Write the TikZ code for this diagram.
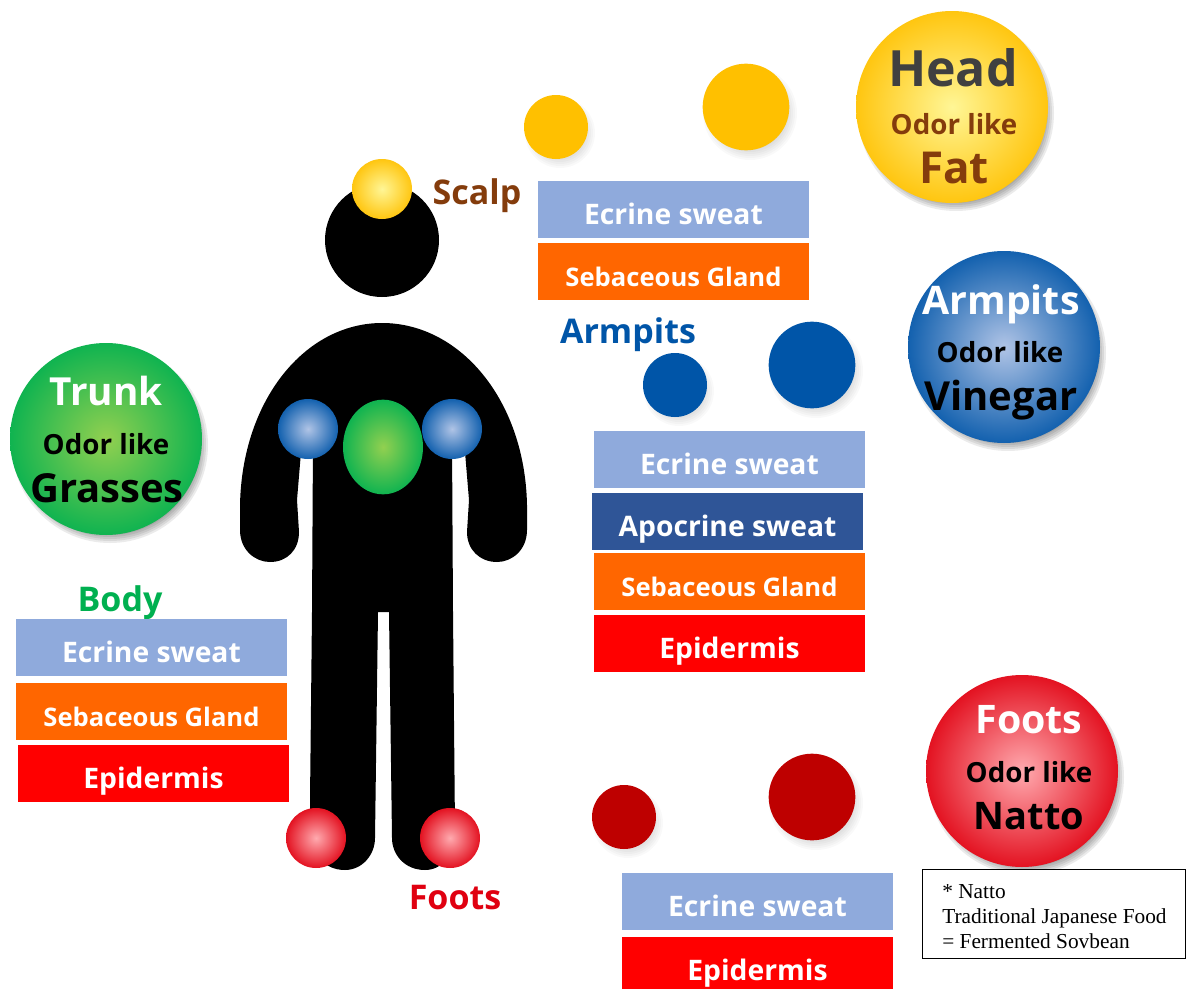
\documentclass[tikz,border=0pt]{standalone}
\usepackage{fontspec}
\usetikzlibrary{shapes.geometric}
\setmainfont{Open Sans}
\newfontfamily\notefont{Liberation Serif}
\definecolor{cBlueBar}{HTML}{8FAADC}
\definecolor{cOrange}{HTML}{FF6600}
\definecolor{cRedBar}{HTML}{FF0000}
\definecolor{cNavy}{HTML}{2F5597}
\definecolor{cBrown}{HTML}{843C0C}
\definecolor{cBlue}{HTML}{0055A8}
\definecolor{cGreen}{HTML}{00B050}
\definecolor{cRed}{HTML}{E00010}
\definecolor{cDark}{HTML}{404040}
\definecolor{cYel}{HTML}{FFC000}
\definecolor{cDRed}{HTML}{BE0000}
\definecolor{cYelC}{HTML}{FFF696}
\definecolor{cBlueC}{HTML}{B0C4E6}
\definecolor{cGreenC}{HTML}{92D050}
\definecolor{cRedC}{HTML}{FFAAAF}
\pgfdeclareradialshading{ballY}{\pgfpointorigin}{color(0bp)=(cYelC); color(28bp)=(cYel); color(100bp)=(cYel)}
\pgfdeclareradialshading{ballB}{\pgfpointorigin}{color(0bp)=(cBlueC); color(28bp)=(cBlue); color(100bp)=(cBlue)}
\pgfdeclareradialshading{ballG}{\pgfpointorigin}{color(0bp)=(cGreenC); color(28bp)=(cGreen); color(100bp)=(cGreen)}
\pgfdeclareradialshading{ballR}{\pgfpointorigin}{color(0bp)=(cRedC); color(28bp)=(cRed); color(100bp)=(cRed)}
\newcommand\softshadow[4]{%
  \foreach \i in {0,...,7}{\fill[black,opacity=#4] (#1+4,#2+6) circle[radius={#3+8-2*\i}];}}
\tikzset{
  bar/.style={minimum width=203.25pt,minimum height=42.75pt,inner sep=0pt,text=white,text height=21.8pt,text depth=0pt,font=\bfseries\fontsize{21.2}{24}\selectfont},
  barE/.style={bar,fill=cBlueBar},
  barS/.style={bar,fill=cOrange,font=\bfseries\fontsize{19.2}{22}\selectfont},
  barD/.style={bar,fill=cRedBar},
  barA/.style={bar,fill=cNavy},
  big/.style={circle,minimum size=144pt,inner sep=0pt},
  tiny/.style={circle,minimum size=45pt,inner sep=0pt},
  flatS/.style={circle,minimum size=48pt,inner sep=0pt},
  flatL/.style={circle,minimum size=65pt,inner sep=0pt},
  head/.style={font=\bfseries\fontsize{27}{30}\selectfont,inner sep=0pt},
  title/.style={font=\bfseries\fontsize{29.5}{32}\selectfont,inner sep=0pt},
  odor/.style={font=\bfseries\fontsize{20.8}{24}\selectfont,inner sep=0pt},
  side/.style={font=\bfseries\fontsize{25.5}{28}\selectfont,inner sep=0pt},
}
\begin{document}
\begin{tikzpicture}[x=0.75pt,y=-0.75pt]
\useasboundingbox (0,0) rectangle (1186,989);
\fill[white] (0,0) rectangle (1186,989);
% person
\fill[black] (382,240) circle[radius=57];
\fill[black] (382,323) .. controls (305,323) and (242,400) .. (240,505)
  -- (240,530) .. controls (240,550) and (255,562) .. (270,562)
  .. controls (287,562) and (299,550) .. (299,532)
  -- (297,500) -- (302,440) -- (313,440) -- (312,612) -- (310,800) -- (310,830)
  .. controls (310,855) and (325,870) .. (345,870)
  .. controls (362,870) and (375,855) .. (375,838)
  -- (378,612) -- (389,612) -- (392,838)
  .. controls (392,855) and (405,870) .. (425,870)
  .. controls (442,870) and (455,855) .. (455,830)
  -- (453,612) -- (452,440) -- (464,440) -- (469,500) -- (467,532)
  .. controls (467,550) and (480,562) .. (497,562)
  .. controls (512,562) and (527,550) .. (527,530)
  -- (527,505) .. controls (525,400) and (460,323) .. (382,323) -- cycle;
% gradient spots on the person
\node[tiny,shading=ballY] (spotScalp) at (382,189) {};
\node[tiny,shading=ballB] (spotArmL) at (308,429) {};
\node[tiny,shading=ballB] (spotArmR) at (452,429) {};
\node[ellipse,minimum width=60pt,minimum height=71pt,inner sep=0pt,shading=ballG] (spotTrunk) at (383,447) {};
\node[tiny,shading=ballR] (spotFootL) at (316,838) {};
\node[tiny,shading=ballR] (spotFootR) at (450,838) {};
% flat circles
\softshadow{556}{127}{27}{0.025}
\softshadow{746}{107}{39}{0.025}
\softshadow{675}{385}{27}{0.025}
\softshadow{812}{365}{39}{0.025}
\softshadow{624}{817}{27}{0.025}
\softshadow{812}{797}{39}{0.025}
\node[flatS,fill=cYel] (scalpS) at (556,127) {};
\node[flatL,fill=cYel] (scalpL) at (746,107) {};
\node[flatS,fill=cBlue] (armS) at (675,385) {};
\node[flatL,fill=cBlue] (armL) at (812,365) {};
\node[flatS,fill=cDRed] (footS) at (624,817) {};
\node[flatL,fill=cDRed] (footL) at (812,797) {};
% big balls
\softshadow{952}{107}{90}{0.08}
\softshadow{1004}{347}{90}{0.08}
\softshadow{106}{439}{90}{0.08}
\softshadow{1022}{771}{90}{0.08}
\node[big,shading=ballY] (ballHead) at (952,107) {};
\node[big,shading=ballB] (ballArm) at (1004,347) {};
\node[big,shading=ballG] (ballTrunk) at (106,439) {};
\node[big,shading=ballR] (ballFoot) at (1022,771) {};
% ball texts
\node[head,text=cDark,font=\bfseries\fontsize{37.5}{40}\selectfont] (tHead) at (953,68) {Head};
\node[odor,text=cBrown] (tHeadO) at (954,124) {Odor like};
\node[head,text=cBrown,font=\bfseries\fontsize{33}{36}\selectfont] (tFat) at (954,168) {Fat};
\node[title,text=white] (tArm) at (1001,304) {Armpits};
\node[odor,text=black] (tArmO) at (1000,352) {Odor like};
\node[title,text=black,font=\bfseries\fontsize{30}{32}\selectfont] (tVin) at (1001,400) {Vinegar};
\node[title,text=white,font=\bfseries\fontsize{29}{32}\selectfont] (tTrunk) at (106,391) {Trunk};
\node[odor,text=black] (tTrunkO) at (106,444) {Odor like};
\node[title,text=black,font=\bfseries\fontsize{30}{32}\selectfont] (tGrass) at (107,488) {Grasses};
\node[title,text=white] (tFoot) at (1029,720) {Foots};
\node[odor,text=black] (tFootO) at (1029,772) {Odor like};
\node[title,text=black,font=\bfseries\fontsize{28.5}{32}\selectfont] (tNatto) at (1029,816) {Natto};
% side labels
\node[side,text=cBrown] (lScalp) at (477,196) {Scalp};
\node[side,text=cBlue] (lArm) at (628,335) {Armpits};
\node[side,text=cGreen] (lBody) at (120,603) {Body};
\node[side,text=cRed] (lFoot) at (455,898) {Foots};
% bars
\node[barE] (b1) at (673.5,209.5) {Ecrine sweat};
\node[barS] (b2) at (673.5,271.5) {Sebaceous Gland};
\node[barE] (b3) at (729.5,459.5) {Ecrine sweat};
\node[barA] (b4) at (727.5,521.5) {Apocrine sweat};
\node[barS] (b5) at (729.5,581.5) {Sebaceous Gland};
\node[barD] (b6) at (729.5,643.5) {Epidermis};
\node[barE] (b7) at (151.5,647.5) {Ecrine sweat};
\node[barS] (b8) at (151.5,711.5) {Sebaceous Gland};
\node[barD] (b9) at (153.5,773.5) {Epidermis};
\node[barE] (b10) at (757.5,901.5) {Ecrine sweat};
\node[barD] (b11) at (757.5,965.5) {Epidermis};
% note
\node[draw=black,line width=0.75pt,fill=white,anchor=north west,minimum width=197.6pt,minimum height=66.5pt,inner sep=0pt] (noteBox) at (922,869) {};
\node[anchor=north west,inner sep=0pt,align=left,text=black,font=\notefont\fontsize{16}{18.75}\selectfont] (noteText) at (942,884) {* Natto\\Traditional Japanese Food\\= Fermented Sovbean};
\end{tikzpicture}
\end{document}
